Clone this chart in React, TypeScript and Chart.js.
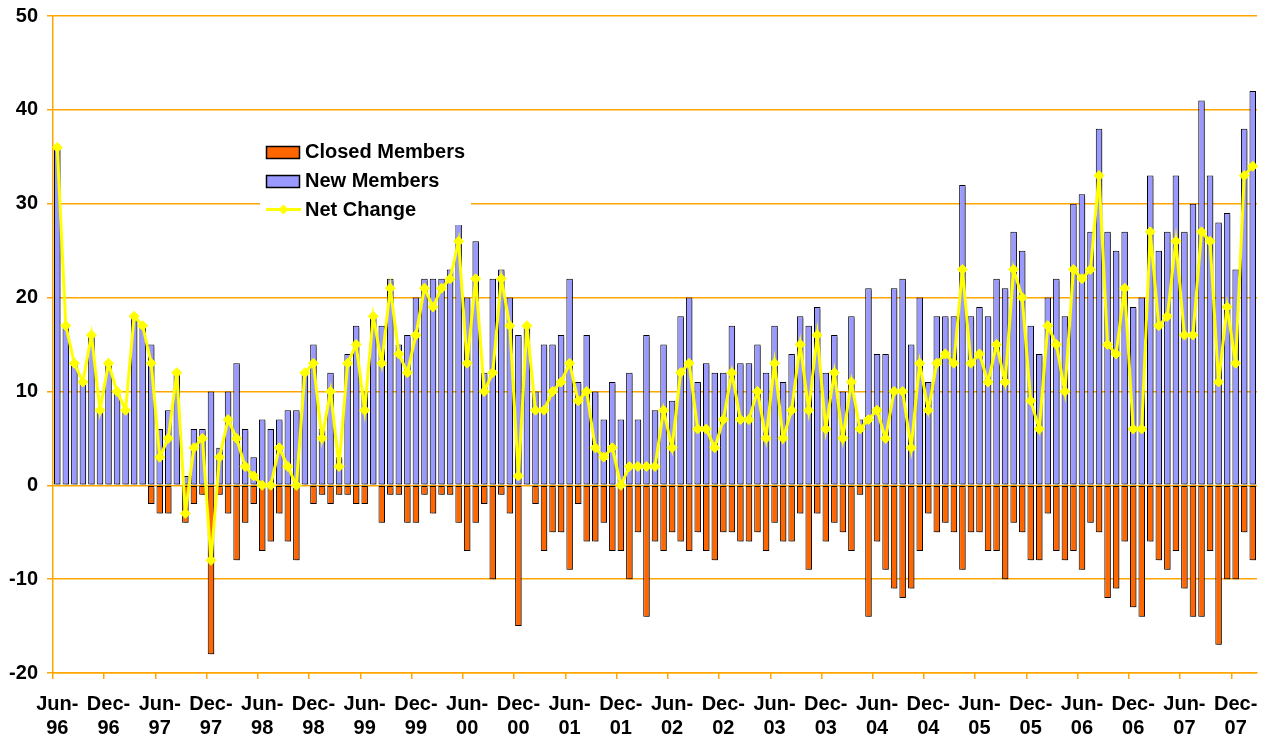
import React, { useEffect, useRef } from "react";
import { Chart, registerables } from "chart.js";

Chart.register(...registerables);

const categories = [
  "Jun-96", "Jul-96", "Aug-96", "Sep-96", "Oct-96", "Nov-96", "Dec-96",
  "Jan-97", "Feb-97", "Mar-97", "Apr-97", "May-97", "Jun-97", "Jul-97", "Aug-97", "Sep-97", "Oct-97", "Nov-97", "Dec-97",
  "Jan-98", "Feb-98", "Mar-98", "Apr-98", "May-98", "Jun-98", "Jul-98", "Aug-98", "Sep-98", "Oct-98", "Nov-98", "Dec-98",
  "Jan-99", "Feb-99", "Mar-99", "Apr-99", "May-99", "Jun-99", "Jul-99", "Aug-99", "Sep-99", "Oct-99", "Nov-99", "Dec-99",
  "Jan-00", "Feb-00", "Mar-00", "Apr-00", "May-00", "Jun-00", "Jul-00", "Aug-00", "Sep-00", "Oct-00", "Nov-00", "Dec-00",
  "Jan-01", "Feb-01", "Mar-01", "Apr-01", "May-01", "Jun-01", "Jul-01", "Aug-01", "Sep-01", "Oct-01", "Nov-01", "Dec-01",
  "Jan-02", "Feb-02", "Mar-02", "Apr-02", "May-02", "Jun-02", "Jul-02", "Aug-02", "Sep-02", "Oct-02", "Nov-02", "Dec-02",
  "Jan-03", "Feb-03", "Mar-03", "Apr-03", "May-03", "Jun-03", "Jul-03", "Aug-03", "Sep-03", "Oct-03", "Nov-03", "Dec-03",
  "Jan-04", "Feb-04", "Mar-04", "Apr-04", "May-04", "Jun-04", "Jul-04", "Aug-04", "Sep-04", "Oct-04", "Nov-04", "Dec-04",
  "Jan-05", "Feb-05", "Mar-05", "Apr-05", "May-05", "Jun-05", "Jul-05", "Aug-05", "Sep-05", "Oct-05", "Nov-05", "Dec-05",
  "Jan-06", "Feb-06", "Mar-06", "Apr-06", "May-06", "Jun-06", "Jul-06", "Aug-06", "Sep-06", "Oct-06", "Nov-06", "Dec-06",
  "Jan-07", "Feb-07", "Mar-07", "Apr-07", "May-07", "Jun-07", "Jul-07", "Aug-07", "Sep-07", "Oct-07", "Nov-07", "Dec-07",
  "Jan-08", "Feb-08",
];

const newMembers = [
  36, 17, 13, 11, 16, 8, 13, 10, 8, 18,
  17, 15, 6, 8, 12, 1, 6, 6, 10, 4,
  10, 13, 6, 3, 7, 6, 7, 8, 8, 12,
  15, 6, 12, 3, 14, 17, 10, 18, 17, 22,
  15, 16, 20, 22, 22, 22, 23, 30, 20, 26,
  12, 22, 23, 20, 16, 17, 10, 15, 15, 16,
  22, 11, 16, 10, 7, 11, 7, 12, 7, 16,
  8, 15, 9, 18, 20, 11, 13, 12, 12, 17,
  13, 13, 15, 12, 17, 11, 14, 18, 17, 19,
  12, 16, 10, 18, 7, 21, 14, 14, 21, 22,
  15, 20, 11, 18, 18, 18, 32, 18, 19, 18,
  22, 21, 27, 25, 17, 14, 20, 22, 18, 30,
  31, 27, 38, 27, 25, 27, 19, 20, 33, 25,
  27, 33, 27, 30, 41, 33, 28, 29, 23, 38,
  42,
];

const closedMembers = [
  0, 0, 0, 0, 0, 0, 0, 0, 0, 0,
  0, -2, -3, -3, 0, -4, -2, -1, -18, -1,
  -3, -8, -4, -2, -7, -6, -3, -6, -8, 0,
  -2, -1, -2, -1, -1, -2, -2, 0, -4, -1,
  -1, -4, -4, -1, -3, -1, -1, -4, -7, -4,
  -2, -10, -1, -3, -15, 0, -2, -7, -5, -5,
  -9, -2, -6, -6, -4, -7, -7, -10, -5, -14,
  -6, -7, -5, -6, -7, -5, -7, -8, -5, -5,
  -6, -6, -5, -7, -4, -6, -6, -3, -9, -3,
  -6, -4, -5, -7, -1, -14, -6, -9, -11, -12,
  -11, -7, -3, -5, -4, -5, -9, -5, -5, -7,
  -7, -10, -4, -5, -8, -8, -3, -7, -8, -7,
  -9, -4, -5, -12, -11, -6, -13, -14, -6, -8,
  -9, -7, -11, -14, -14, -7, -17, -10, -10, -5,
  -8,
];

const netChange = [
  36, 17, 13, 11, 16, 8, 13, 10, 8, 18,
  17, 13, 3, 5, 12, -3, 4, 5, -8, 3,
  7, 5, 2, 1, 0, 0, 4, 2, 0, 12,
  13, 5, 10, 2, 13, 15, 8, 18, 13, 21,
  14, 12, 16, 21, 19, 21, 22, 26, 13, 22,
  10, 12, 22, 17, 1, 17, 8, 8, 10, 11,
  13, 9, 10, 4, 3, 4, 0, 2, 2, 2,
  2, 8, 4, 12, 13, 6, 6, 4, 7, 12,
  7, 7, 10, 5, 13, 5, 8, 15, 8, 16,
  6, 12, 5, 11, 6, 7, 8, 5, 10, 10,
  4, 13, 8, 13, 14, 13, 23, 13, 14, 11,
  15, 11, 23, 20, 9, 6, 17, 15, 10, 23,
  22, 23, 33, 15, 14, 21, 6, 6, 27, 17,
  18, 26, 16, 16, 27, 26, 11, 19, 13, 33,
  34,
];

const seriesNames = ["Closed Members", "New Members", "Net Change"];

const FONT = '"Liberation Sans", Arial, Helvetica, sans-serif';
const ORANGE_GRID = "#FFA500";
const CLOSED_COLOR = "#FF6600";
const NEW_COLOR = "#9999FF";
const NET_COLOR = "#FFFF00";

const barShadowPlugin = {
  id: "barShadow",
  beforeDatasetDraw(chart: any, args: any) {
    const ds = chart.data.datasets[args.index];
    if (ds.type !== "bar") return;
    const ctx = chart.ctx;
    ctx.save();
    ctx.shadowColor = "rgba(0,0,0,0.35)";
    ctx.shadowOffsetX = 2;
    ctx.shadowOffsetY = 2;
    ctx.shadowBlur = 0;
  },
  afterDatasetDraw(chart: any, args: any) {
    const ds = chart.data.datasets[args.index];
    if (ds.type !== "bar") return;
    chart.ctx.restore();
  },
};

const floatingLegendPlugin = {
  id: "floatingLegend",
  afterDraw(chart: any) {
    const ctx = chart.ctx;
    ctx.save();
    ctx.fillStyle = "#FFFFFF";
    ctx.fillRect(260, 134, 211, 91);

    const sx = 266.5;
    const sw = 33;
    const sh = 12;
    ctx.fillStyle = CLOSED_COLOR;
    ctx.fillRect(sx, 146.5, sw, sh);
    ctx.strokeStyle = "#000";
    ctx.lineWidth = 1.5;
    ctx.strokeRect(sx, 146.5, sw, sh);
    ctx.fillStyle = NEW_COLOR;
    ctx.fillRect(sx, 175.5, sw, sh);
    ctx.strokeRect(sx, 175.5, sw, sh);
    ctx.strokeStyle = NET_COLOR;
    ctx.lineWidth = 3;
    ctx.beginPath();
    ctx.moveTo(266, 209.5);
    ctx.lineTo(301, 209.5);
    ctx.stroke();
    ctx.fillStyle = NET_COLOR;
    ctx.beginPath();
    const cx = 283.5, cy = 209.5, r = 5;
    ctx.moveTo(cx, cy - r);
    ctx.lineTo(cx + r, cy);
    ctx.lineTo(cx, cy + r);
    ctx.lineTo(cx - r, cy);
    ctx.closePath();
    ctx.fill();

    ctx.fillStyle = "#000";
    ctx.font = `bold 20px ${FONT}`;
    ctx.textAlign = "left";
    ctx.textBaseline = "middle";
    ctx.fillText(seriesNames[0], 305, 152.5);
    ctx.fillText(seriesNames[1], 305, 181.5);
    ctx.fillText(seriesNames[2], 305, 210.5);
    ctx.restore();
  },
};

export default function App() {
  const canvasRef = useRef<HTMLCanvasElement | null>(null);

  useEffect(() => {
    if (!canvasRef.current) return;
    const chart = new Chart(canvasRef.current, {
      type: "bar",
      data: {
        labels: categories,
        datasets: [
          {
            type: "line",
            label: seriesNames[2],
            data: netChange,
            borderColor: NET_COLOR,
            backgroundColor: NET_COLOR,
            borderWidth: 3,
            pointStyle: "rectRot",
            pointRadius: 5,
            pointBorderWidth: 1,
            pointBackgroundColor: NET_COLOR,
            pointBorderColor: NET_COLOR,
            tension: 0,
            order: 0,
          } as any,
          {
            type: "bar",
            label: seriesNames[1],
            data: newMembers,
            backgroundColor: NEW_COLOR,
            borderColor: "#000",
            borderWidth: 1,
            borderSkipped: false,
            grouped: false,
            barPercentage: 0.76,
            categoryPercentage: 1,
            order: 2,
          } as any,
          {
            type: "bar",
            label: seriesNames[0],
            data: closedMembers,
            backgroundColor: CLOSED_COLOR,
            borderColor: "#000",
            borderWidth: 1,
            borderSkipped: false,
            grouped: false,
            barPercentage: 0.76,
            categoryPercentage: 1,
            order: 1,
          } as any,
        ],
      },
      options: {
        animation: false,
        responsive: true,
        maintainAspectRatio: false,
        layout: { padding: { left: 0, right: 14, top: 16, bottom: 0 } },
        plugins: {
          legend: { display: false },
          tooltip: { enabled: false },
        },
        scales: {
          x: {
            type: "category",
            offset: true,
            grid: {
              offset: true,
              drawOnChartArea: false,
              drawTicks: true,
              tickLength: 6,
              lineWidth: 1.5,
              color: (c: any) =>
                typeof c.index === "number" && c.index % 6 === 0 && c.index < categories.length
                  ? ORANGE_GRID
                  : "rgba(0,0,0,0)",
            },
            border: { display: true, color: ORANGE_GRID, width: 1.5 },
            ticks: {
              autoSkip: false,
              maxRotation: 0,
              minRotation: 0,
              padding: 13,
              color: "#000",
              font: { family: FONT, size: 20, weight: "bold", lineHeight: 1.2 },
              callback: (_v: any, i: number) => {
                if (i % 6 !== 0) return "";
                const parts = categories[i].split("-");
                return [parts[0] + "-", parts[1]];
              },
            },
            afterFit: (s: any) => {
              s.height = 69;
              s.paddingLeft = 0;
              s.paddingRight = 0;
            },
          },
          y: {
            min: -20,
            max: 50,
            ticks: {
              stepSize: 10,
              padding: 9,
              color: "#000",
              font: { family: FONT, size: 20, weight: "bold" },
            },
            grid: { color: ORANGE_GRID, lineWidth: 1.5, tickLength: 6 },
            border: { display: true, color: ORANGE_GRID, width: 1.5 },
            afterFit: (s: any) => {
              s.width = 53;
              s.paddingTop = 0;
              s.paddingBottom = 0;
            },
          },
        },
      } as any,
      plugins: [barShadowPlugin, floatingLegendPlugin],
    });
    return () => chart.destroy();
  }, []);

  return (
    <div style={{ position: "fixed", left: 0, top: 0, width: 1271, height: 742, background: "#fff" }}>
      <canvas ref={canvasRef} />
    </div>
  );
}
